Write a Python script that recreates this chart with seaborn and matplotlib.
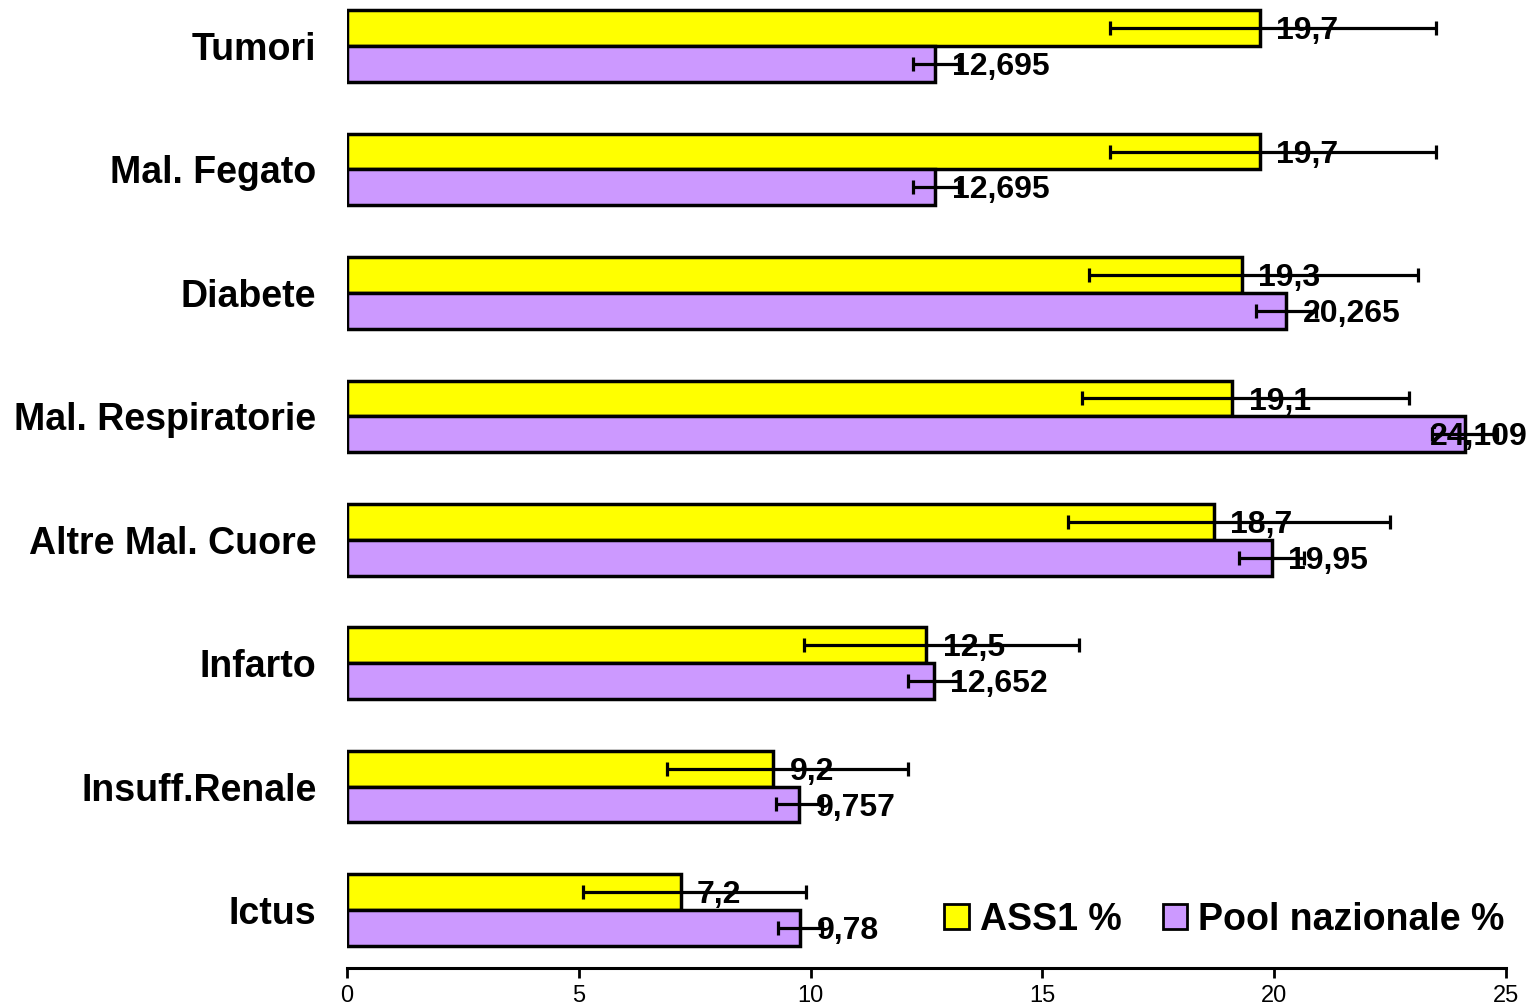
"""
Confronto ASS1 vs Pool nazionale - barre orizzontali con intervalli
"""

import numpy as np
import pandas as pd
import matplotlib
matplotlib.use('Agg')
import matplotlib.pyplot as plt
import seaborn as sns

# stile
sns.set_style("white")
plt.rcParams['font.family'] = ['Liberation Sans', 'DejaVu Sans']

# dati
categorie = ['Tumori', 'Mal. Fegato', 'Diabete', 'Mal. Respiratorie',
             'Altre Mal. Cuore', 'Infarto', 'Insuff.Renale', 'Ictus']
ass1 = [19.7, 19.7, 19.3, 19.1, 18.7, 12.5, 9.2, 7.2]
ass1_low = [16.45, 16.45, 16.0, 15.85, 15.55, 9.85, 6.9, 5.1]
ass1_high = [23.5, 23.5, 23.1, 22.9, 22.5, 15.8, 12.1, 9.9]
pool = [12.695, 12.695, 20.265, 24.109, 19.95, 12.652, 9.757, 9.78]
pool_low = [12.2, 12.2, 19.6, 23.4, 19.25, 12.1, 9.25, 9.3]
pool_high = [13.2, 13.2, 20.9, 24.8, 20.65, 13.2, 10.25, 10.25]

serie = ['ASS1 %', 'Pool nazionale %']
colori = ['#FFFF00', '#CC99FF']

df = pd.DataFrame({
    'categoria': categorie * 2,
    'valore': ass1 + pool,
    'serie': [serie[0]] * len(categorie) + [serie[1]] * len(categorie),
})

fig = plt.figure(figsize=(15.34, 10.07), dpi=100)
ax = fig.add_axes([0.2262, 0.0387, 0.9817 - 0.2262, 1 - 0.0387])

sns.barplot(data=df, y='categoria', x='valore', hue='serie', order=categorie,
            hue_order=serie, palette=colori, orient='h', width=0.58,
            edgecolor='black', linewidth=2.5, saturation=1, ax=ax)

# barre d'errore e etichette dei valori
intervalli = [(ass1, ass1_low, ass1_high), (pool, pool_low, pool_high)]
for cont, (vals, low, high) in zip(ax.containers, intervalli):
    vals = np.array(vals)
    ys = np.array([p.get_y() + p.get_height() / 2 for p in cont.patches])
    xerr = [vals - np.array(low), np.array(high) - vals]
    ax.errorbar(vals, ys, xerr=xerr, fmt='none', ecolor='black',
                elinewidth=2.3, capsize=5, capthick=2.3, zorder=4)
    for v, y in zip(vals, ys):
        testo = f'{v:g}'.replace('.', ',')
        if v > 23:
            # troppo vicino al bordo: allineato a destra
            ax.text(25.47, y + 0.025, testo, ha='right', va='center',
                    fontsize=23, fontweight='bold', color='black', zorder=5,
                    clip_on=False)
        else:
            ax.text(v + 0.35, y + 0.025, testo, ha='left', va='center',
                    fontsize=23, fontweight='bold', color='black', zorder=5)

ax.set_xlim(0, 25)
ax.set_ylim(7.47, -0.373)
ax.set_xticks(range(0, 26, 5))
ax.set_xlabel('')
ax.set_ylabel('')

for s in ['top', 'right', 'left']:
    ax.spines[s].set_visible(False)
ax.spines['bottom'].set_linewidth(2.2)
ax.spines['bottom'].set_color('black')

ax.tick_params(axis='y', length=0, pad=22, labelsize=27, labelcolor='black')
for lab in ax.get_yticklabels():
    lab.set_fontweight('bold')
ax.tick_params(axis='x', length=7, width=2, direction='out', pad=5,
               labelsize=17, bottom=True, colors='black')

leg = ax.legend(loc='center right', bbox_to_anchor=(1.012, 0.05), ncol=2,
                frameon=False, fontsize=27, handlelength=0.65,
                handleheight=0.65, handletextpad=0.3, columnspacing=1.1,
                borderaxespad=0)
for t in leg.get_texts():
    t.set_fontweight('bold')
    t.set_color('black')
for h in leg.legend_handles:
    h.set_edgecolor('black')
    h.set_linewidth(2)

fig.savefig('out.png', dpi=100)
